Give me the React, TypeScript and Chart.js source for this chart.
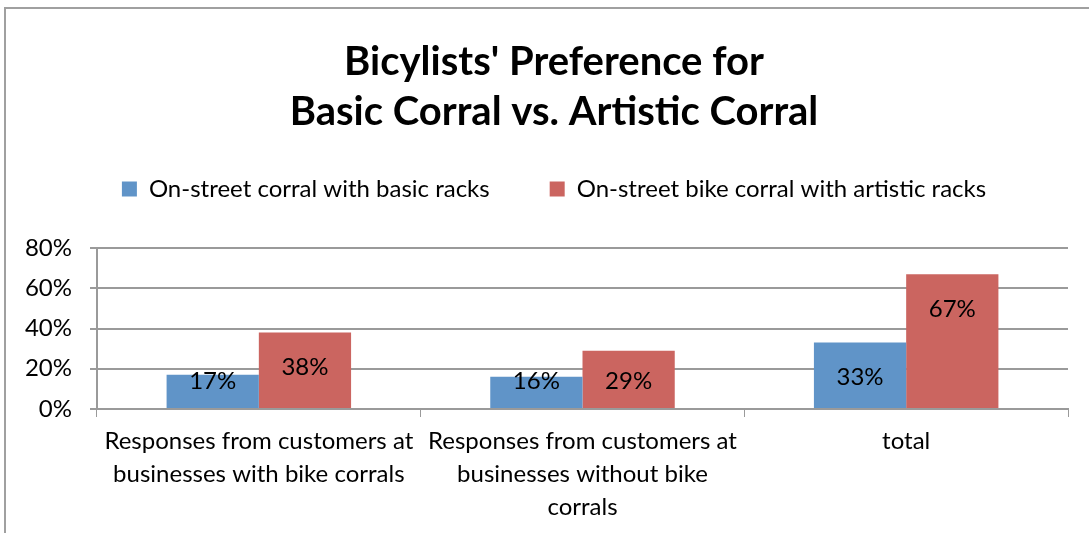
import React, { useEffect, useRef } from "react";
import { Chart, registerables } from "chart.js";

Chart.register(...registerables);

const categories: string[][] = [
  ["Responses from customers at", "businesses with bike corrals"],
  ["Responses from customers at", "businesses without bike", "corrals"],
  ["total"],
];
const seriesNames = [
  "On-street corral with basic racks",
  "On-street bike corral with artistic racks",
];
const basicValues = [0.17, 0.16, 0.33];
const artisticValues = [0.38, 0.29, 0.67];
const titleLines = ["Bicylists' Preference for", "Basic Corral vs. Artistic Corral"];

const FONT = "Lato, 'Open Sans', sans-serif";
const BLUE = "#6094C8";
const RED = "#CB6560";
const GRID = "#9a9a9a";

const labelPlugin = {
  id: "barLabels",
  afterDatasetsDraw(chart: any) {
    const ctx = chart.ctx;
    const base = chart.scales.y.getPixelForValue(0);
    ctx.save();
    ctx.font = `24px ${FONT}`;
    ctx.fillStyle = "#000";
    ctx.textAlign = "center";
    ctx.textBaseline = "middle";
    chart.data.datasets.forEach((ds: any, di: number) => {
      const meta = chart.getDatasetMeta(di);
      meta.data.forEach((bar: any, i: number) => {
        const v = ds.data[i];
        const y = Math.min(bar.y + 35, base - 28);
        ctx.fillText(Math.round(v * 100) + "%", bar.x, y);
      });
    });
    ctx.restore();
  },
};

const legendGapPlugin = {
  id: "legendGap",
  beforeInit(chart: any) {
    const legend = chart.legend;
    if (!legend) return;
    const orig = legend.fit;
    legend.fit = function () {
      orig.call(this);
      this.height += 37;
    };
  },
};

export default function App() {
  const ref = useRef<HTMLCanvasElement>(null);
  useEffect(() => {
    if (!ref.current) return;
    const chart = new Chart(ref.current, {
      type: "bar",
      data: {
        labels: categories,
        datasets: [
          { label: seriesNames[0], data: basicValues, backgroundColor: BLUE },
          { label: seriesNames[1], data: artisticValues, backgroundColor: RED },
        ],
      },
      options: {
        animation: false,
        responsive: false,
        devicePixelRatio: 1,
        layout: { padding: { left: 40, right: 21, top: 37, bottom: 1 } },
        datasets: { bar: { categoryPercentage: 0.57, barPercentage: 1 } },
        plugins: {
          title: {
            display: true,
            text: titleLines,
            color: "#000",
            font: { family: FONT, size: 40, weight: "bold", lineHeight: 1.25 },
            padding: { top: 0, bottom: -20 },
          },
          legend: {
            display: true,
            labels: {
              color: "#000",
              font: { family: FONT, size: 24 },
              boxWidth: 15,
              boxHeight: 15,
              padding: 60,
            },
          },
          tooltip: { enabled: false },
        },
        scales: {
          x: {
            grid: {
              offset: true,
              drawOnChartArea: false,
              drawTicks: true,
              tickLength: 8,
              color: GRID,
            },
            border: { color: GRID, width: 2 },
            ticks: {
              color: "#000",
              font: { family: FONT, size: 24, lineHeight: 1.375 },
              maxRotation: 0,
              autoSkip: false,
              padding: 8,
            },
          },
          y: {
            min: 0,
            max: 0.8,
            afterFit(scale: any) {
              scale.width = 57;
              scale._computeLabelArea = () => undefined;
            },
            grid: { color: GRID, lineWidth: 2, tickLength: 7 },
            border: { color: GRID, width: 2 },
            ticks: {
              stepSize: 0.2,
              color: "#000",
              font: { family: FONT, size: 24 },
              padding: 18,
              callback: (v: any) => Math.round(Number(v) * 100) + "%",
            },
          },
        },
      },
      plugins: [labelPlugin, legendGapPlugin],
    });
    return () => chart.destroy();
  }, []);

  return (
    <div style={{ position: "absolute", left: 0, top: 0, width: 1089, height: 533, overflow: "hidden", background: "#fff" }}>
      <div
        style={{
          position: "absolute",
          left: 4,
          top: 7,
          width: 1100,
          height: 540,
          borderLeft: "2px solid #a0a0a0",
          borderTop: "2px solid #a0a0a0",
        }}
      />
      <canvas ref={ref} width={1089} height={533} style={{ position: "absolute", left: 0, top: 0 }} />
    </div>
  );
}
